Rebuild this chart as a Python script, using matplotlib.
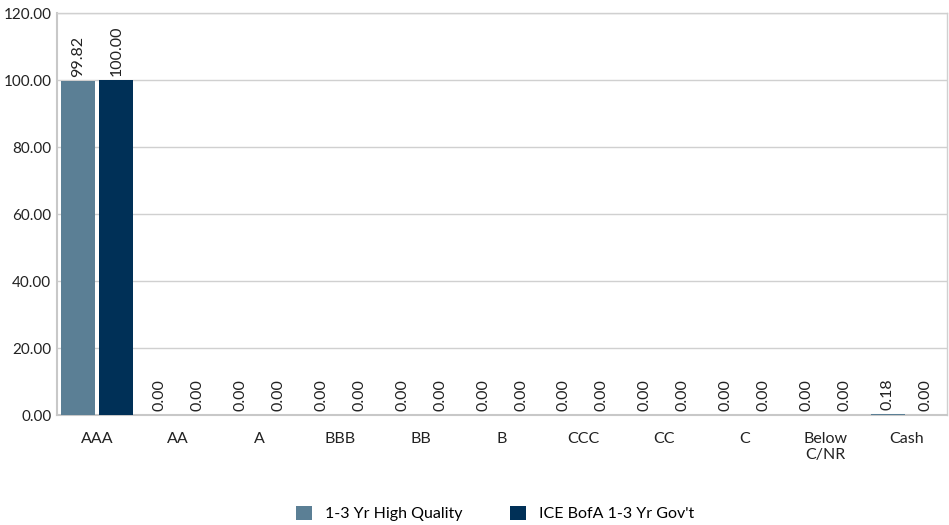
import matplotlib.pyplot as plt
import numpy as np

categories = ['AAA', 'AA', 'A', 'BBB', 'BB', 'B', 'CCC', 'CC', 'C', 'Below\nC/NR', 'Cash']
fund = [99.82, 0.00, 0.00, 0.00, 0.00, 0.00, 0.00, 0.00, 0.00, 0.00, 0.18]
bench = [100.00, 0.00, 0.00, 0.00, 0.00, 0.00, 0.00, 0.00, 0.00, 0.00, 0.00]
series_names = ['1-3 Yr High Quality', "ICE BofA 1-3 Yr Gov't"]
colors = ['#5b7f95', '#003057']

plt.rcParams['font.family'] = ['Lato', 'DejaVu Sans']

fig = plt.figure(figsize=(9.49, 5.25), dpi=100)
ax = fig.add_axes([0.060, 0.2095, 0.938, 0.7655])

x = np.arange(len(categories))
w = 0.42
gap = 0.025
b1 = ax.bar(x - w / 2 - gap, fund, w, color=colors[0], label=series_names[0], zorder=3)
b2 = ax.bar(x + w / 2 + gap, bench, w, color=colors[1], label=series_names[1], zorder=3)

for bars, vals in [(b1, fund), (b2, bench)]:
    for r, v in zip(bars, vals):
        ax.annotate(f'{v:.2f}', (r.get_x() + r.get_width() / 2, v),
                    xytext=(0, 3), textcoords='offset points',
                    rotation=90, ha='center', va='bottom', fontsize=11.5, color='#222222')

ax.set_xlim(-0.5, len(categories) - 0.5)
ax.set_ylim(0, 120)
ax.set_yticks(np.arange(0, 121, 20))
ax.set_yticklabels([f'{v:.2f}' for v in np.arange(0, 121, 20)], fontsize=11, color='#222222')
ax.set_xticks(x)
ax.set_xticklabels(categories, fontsize=11.5, color='#222222', va='top')
ax.tick_params(axis='y', length=0, pad=4)
ax.tick_params(axis='x', length=0, pad=12)
ax.grid(axis='y', color='#d0d0d0', linewidth=1, zorder=0)
for s in ['left', 'bottom']:
    ax.spines[s].set_color('#c8c8c8')
    ax.spines[s].set_linewidth(1.5)
for s in ['top', 'right']:
    ax.spines[s].set_color('#d0d0d0')
    ax.spines[s].set_linewidth(1)

ax.legend(loc='center', bbox_to_anchor=(0.492, -0.245), ncol=2, frameon=False,
          fontsize=11.5, handlelength=1, handleheight=1, columnspacing=3)

fig.savefig('out.png', dpi=100)
